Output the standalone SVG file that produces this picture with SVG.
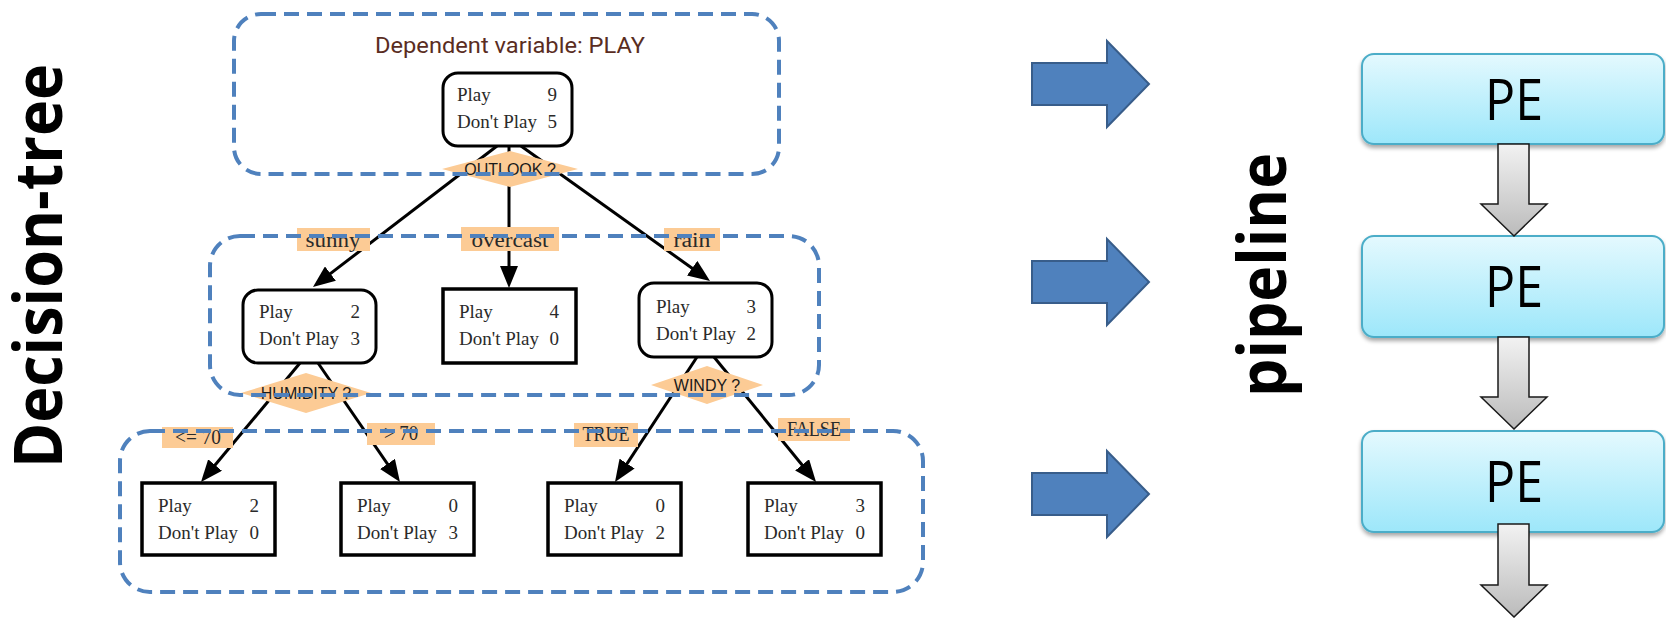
<svg xmlns="http://www.w3.org/2000/svg" width="1666" height="618" viewBox="0 0 1666 618">
<style>
.dash{fill:none;stroke:#4F81BD;stroke-width:4;stroke-dasharray:15 8}
.nbox{fill:#fff;stroke:#000;stroke-width:3}
.sbox{fill:#fff;stroke:#000;stroke-width:3.5}
.nt{font-family:"Liberation Serif",serif;font-size:19px;fill:#2a2a2a}
.ne{font-family:"Liberation Serif",serif;font-size:19px;fill:#2a2a2a;text-anchor:end}
.lbl{fill:#FCCB95}
.lt{font-family:"Liberation Serif",serif;font-size:20px;fill:#2a2a2a;text-anchor:middle}
.dt{font-family:"Liberation Sans",Arial,sans-serif;font-size:16px;fill:#1a1a1a;text-anchor:middle}
.edge{stroke:#000;stroke-width:3;fill:none;marker-end:url(#ah)}
.barrow{fill:#4F81BD;stroke:#385D8A;stroke-width:2}
.pe{fill:url(#peg);stroke:#4BADC8;stroke-width:2;filter:url(#sh)}
.pet{font-family:"Open Sans",sans-serif;font-size:56px;fill:#000;text-anchor:middle}
.garrow{fill:url(#gg);stroke:#1a1a1a;stroke-width:1.5}
.big{font-family:"Open Sans",sans-serif;font-weight:700;font-size:66px;fill:#000;text-anchor:middle}
</style>
<defs>
<marker id="ah" viewBox="0 0 22 18" refX="12" refY="9" markerWidth="22" markerHeight="18" orient="auto" markerUnits="userSpaceOnUse">
<path d="M0,0 L22,9 L0,18 Z" fill="#000"/>
</marker>
<linearGradient id="peg" x1="0" y1="0" x2="0" y2="1">
<stop offset="0" stop-color="#E4F9FE"/>
<stop offset="1" stop-color="#9DE7FA"/>
</linearGradient>
<linearGradient id="gg" x1="0" y1="0" x2="0" y2="1">
<stop offset="0" stop-color="#F2F2F2"/>
<stop offset="1" stop-color="#BBBBBB"/>
</linearGradient>
<filter id="sh" x="-5%" y="-10%" width="110%" height="130%">
<feGaussianBlur in="SourceAlpha" stdDeviation="2"/>
<feOffset dy="3" result="b"/>
<feComponentTransfer><feFuncA type="linear" slope="0.35"/></feComponentTransfer>
<feMerge><feMergeNode/><feMergeNode in="SourceGraphic"/></feMerge>
</filter>
</defs>

<g id="title-decision-tree"><text class="big" transform="translate(62,266) rotate(-90)" textLength="404" lengthAdjust="spacingAndGlyphs">Decision-tree</text></g>
<g id="title-pipeline"><text class="big" transform="translate(1286,275) rotate(-90)" textLength="244" lengthAdjust="spacingAndGlyphs">pipeline</text></g>

<g id="connectors">
<line class="edge" x1="497" y1="146" x2="320.9" y2="280.9"/>
<line class="edge" x1="509" y1="146" x2="509" y2="278"/>
<line class="edge" x1="521" y1="146" x2="701.9" y2="275.2"/>
<line class="edge" x1="300" y1="363" x2="207.4" y2="474.3"/>
<line class="edge" x1="318" y1="363" x2="394.3" y2="473.8"/>
<line class="edge" x1="697" y1="357" x2="620.5" y2="473.6"/>
<line class="edge" x1="714" y1="357" x2="809.7" y2="474.2"/>
</g>

<g id="dependent-label"><text x="510" y="53" font-family="Roboto,'Liberation Sans',sans-serif" font-size="22" fill="#5a2d1f" text-anchor="middle" textLength="270" lengthAdjust="spacingAndGlyphs">Dependent variable: PLAY</text></g>

<g id="node-root">
<rect class="nbox" x="443" y="73" width="129" height="73" rx="15"/>
<text class="nt" x="457" y="101">Play</text><text class="ne" x="557" y="101">9</text>
<text class="nt" x="457" y="128">Don't Play</text><text class="ne" x="557" y="128">5</text>
</g>
<g id="split-outlook">
<polygon class="lbl" points="442,169 510,151 578,169 510,187"/>
<text class="dt" x="510" y="175">OUTLOOK ?</text>
</g>

<g id="label-sunny"><rect class="lbl" x="297" y="228" width="73" height="23"/><text class="lt" x="333" y="247" textLength="55" lengthAdjust="spacingAndGlyphs">sunny</text></g>
<g id="label-overcast"><rect class="lbl" x="461" y="227" width="98" height="24"/><text class="lt" x="510" y="247" textLength="77" lengthAdjust="spacingAndGlyphs">overcast</text></g>
<g id="label-rain"><rect class="lbl" x="664" y="228" width="56" height="23"/><text class="lt" x="692" y="247" textLength="37" lengthAdjust="spacingAndGlyphs">rain</text></g>

<g id="node-sunny">
<rect class="nbox" x="243" y="290" width="133" height="73" rx="15"/>
<text class="nt" x="259" y="318">Play</text><text class="ne" x="360" y="318">2</text>
<text class="nt" x="259" y="345">Don't Play</text><text class="ne" x="360" y="345">3</text>
</g>
<g id="node-overcast">
<rect class="sbox" x="443" y="289" width="133" height="74"/>
<text class="nt" x="459" y="318">Play</text><text class="ne" x="559" y="318">4</text>
<text class="nt" x="459" y="345">Don't Play</text><text class="ne" x="559" y="345">0</text>
</g>
<g id="node-rain">
<rect class="nbox" x="639" y="283" width="133" height="74" rx="15"/>
<text class="nt" x="656" y="313">Play</text><text class="ne" x="756" y="313">3</text>
<text class="nt" x="656" y="340">Don't Play</text><text class="ne" x="756" y="340">2</text>
</g>

<g id="split-humidity">
<polygon class="lbl" points="241,393 306,373 371,393 306,413"/>
<text class="dt" x="306" y="399">HUMIDITY ?</text>
</g>
<g id="split-windy">
<polygon class="lbl" points="651,385 707,366 763,385 707,404"/>
<text class="dt" x="707" y="391">WINDY ?</text>
</g>

<g id="label-le70"><rect class="lbl" x="162" y="427" width="71" height="21"/><text class="lt" x="198" y="444" textLength="46" lengthAdjust="spacingAndGlyphs">&lt;= 70</text></g>
<g id="label-gt70"><rect class="lbl" x="367" y="423" width="68" height="22"/><text class="lt" x="401" y="440" textLength="34" lengthAdjust="spacingAndGlyphs">&gt; 70</text></g>
<g id="label-true"><rect class="lbl" x="574" y="423" width="64" height="24"/><text class="lt" x="606" y="441" textLength="47" lengthAdjust="spacingAndGlyphs">TRUE</text></g>
<g id="label-false"><rect class="lbl" x="778" y="418" width="72" height="23"/><text class="lt" x="814" y="436" textLength="54" lengthAdjust="spacingAndGlyphs">FALSE</text></g>

<g id="leaf-1">
<rect class="sbox" x="142" y="483" width="133" height="72"/>
<text class="nt" x="158" y="512">Play</text><text class="ne" x="259" y="512">2</text>
<text class="nt" x="158" y="539">Don't Play</text><text class="ne" x="259" y="539">0</text>
</g>
<g id="leaf-2">
<rect class="sbox" x="341" y="483" width="133" height="72"/>
<text class="nt" x="357" y="512">Play</text><text class="ne" x="458" y="512">0</text>
<text class="nt" x="357" y="539">Don't Play</text><text class="ne" x="458" y="539">3</text>
</g>
<g id="leaf-3">
<rect class="sbox" x="548" y="483" width="133" height="72"/>
<text class="nt" x="564" y="512">Play</text><text class="ne" x="665" y="512">0</text>
<text class="nt" x="564" y="539">Don't Play</text><text class="ne" x="665" y="539">2</text>
</g>
<g id="leaf-4">
<rect class="sbox" x="748" y="483" width="133" height="72"/>
<text class="nt" x="764" y="512">Play</text><text class="ne" x="865" y="512">3</text>
<text class="nt" x="764" y="539">Don't Play</text><text class="ne" x="865" y="539">0</text>
</g>

<g id="level-boxes">
<rect class="dash" x="234" y="14" width="545" height="160" rx="27"/>
<rect class="dash" x="210" y="236" width="609" height="159" rx="30"/>
<rect class="dash" x="120" y="431" width="803" height="161" rx="30"/>
</g>

<g id="mapping-arrows">
<path class="barrow" d="M1032,63 H1107 V41 L1149,84 L1107,127 V105 H1032 Z"/>
<path class="barrow" d="M1032,261 H1107 V239 L1149,282 L1107,325 V303 H1032 Z"/>
<path class="barrow" d="M1032,473 H1107 V451 L1149,494 L1107,537 V515 H1032 Z"/>
</g>

<g id="pe-1"><rect class="pe" x="1362" y="54" width="302" height="90" rx="12"/><text class="pet" x="1514" y="120" textLength="58" lengthAdjust="spacingAndGlyphs">PE</text></g>
<g id="pe-2"><rect class="pe" x="1362" y="236" width="302" height="101" rx="12"/><text class="pet" x="1514" y="307" textLength="58" lengthAdjust="spacingAndGlyphs">PE</text></g>
<g id="pe-3"><rect class="pe" x="1362" y="431" width="302" height="101" rx="12"/><text class="pet" x="1514" y="502" textLength="58" lengthAdjust="spacingAndGlyphs">PE</text></g>

<g id="pipeline-arrows">
<path class="garrow" d="M1498,144 V204 H1481 L1514,236 L1547,204 H1529 V144 Z"/>
<path class="garrow" d="M1498,337 V397 H1481 L1514,429 L1547,397 H1529 V337 Z"/>
<path class="garrow" d="M1498,524 V585 H1481 L1514,617 L1547,585 H1529 V524 Z"/>
</g>
</svg>
